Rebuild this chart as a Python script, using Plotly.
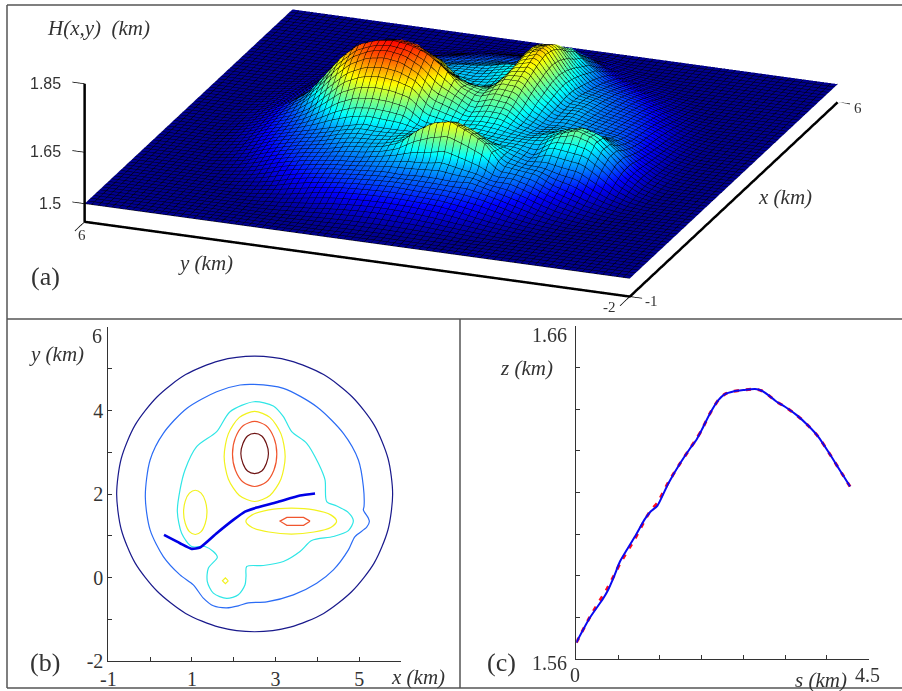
import plotly.graph_objects as go

W, H = 902, 691
# ---------- panel (a): surface, heights in metres above 1500 m, rows = y, columns = x
surf_x = [-1,-.75,-.5,-.25,0,.25,.5,.75,1,1.25,1.5,1.75,2,2.25,2.5,2.75,3,3.25,3.5,3.75,4,4.25,4.5,4.75,5,5.25,5.5,5.75,6]
surf_y = [-2,-1.75,-1.5,-1.25,-1,-.75,-.5,-.25,0,.25,.5,.75,1,1.25,1.5,1.75,2,2.25,2.5,2.75,3,3.25,3.5,3.75,4,4.25,4.5,4.75,5,5.25,5.5,5.75,6]
surf_m = [
 [0,0,0,0,0,0,0,0,0,0,0,0,0,0,0,0,0,0,0,0,0,0,0,0,0,0,0,0,0],
 [0,0,0,0,0,0,0,0,0,0,0,0,0,0,0,0,0,0,0,0,0,0,0,0,0,0,0,0,0],
 [0,0,0,0,0,0,0,0,0,0,0,0,0,0,0,0,0,0,0,0,0,0,0,0,0,0,0,0,0],
 [0,0,0,0,0,0,0,0,0,0,0,1,2,3,2,2,1,0,0,0,0,0,0,0,0,0,0,0,0],
 [0,0,0,0,0,0,0,0,1,5,10,14,15,14,11,10,9,7,5,2,0,0,0,0,0,0,0,0,0],
 [0,0,0,0,0,0,0,3,9,19,32,43,45,39,33,28,24,20,14,10,6,2,0,0,0,0,0,0,0],
 [0,0,0,0,0,0,4,11,22,42,72,90,88,70,57,49,45,41,34,24,15,9,4,0,0,0,0,0,0],
 [0,0,0,0,0,5,10,23,40,68,105,135,128,96,76,65,60,55,49,43,33,20,10,5,0,0,0,0,0],
 [0,0,0,0,4,10,22,40,55,75,112,152,142,98,80,74,71,66,62,55,47,37,22,10,4,0,0,0,0],
 [0,0,0,2,9,19,39,58,79,85,118,135,130,100,87,84,80,75,72,66,59,49,37,19,9,2,0,0,0],
 [0,0,0,6,15,33,52,74,85,86,88,105,110,100,92,95,96,92,87,78,70,59,47,33,15,6,0,0,0],
 [0,0,2,10,24,45,64,72,92,100,104,104,98,92,90,92,94,97,96,88,80,72,60,46,26,11,2,0,0],
 [0,0,5,14,34,52,76,88,150,128,106,105,105,105,110,125,135,145,147,140,127,110,95,69,47,22,9,0,0],
 [0,0,7,20,41,59,72,100,178,160,115,108,118,135,153,175,191,205,215,208,189,160,138,103,74,44,18,5,0],
 [0,1,9,24,44,60,75,112,200,178,125,115,120,138,161,177,185,191,196,195,183,157,128,99,70,40,18,5,0],
 [0,2,10,27,46,62,75,102,190,165,122,105,115,125,145,145,135,122,121,125,115,95,88,76,56,33,13,2,0],
 [0,2,10,28,47,65,72,100,160,140,115,105,128,155,165,155,128,105,108,112,112,89,73,62,47,28,10,2,0],
 [0,2,10,27,46,62,74,92,118,118,110,108,142,175,215,175,142,108,100,100,100,88,72,61,46,27,10,2,0],
 [0,1,9,24,44,59,70,84,100,105,108,140,190,222,250,222,190,140,104,100,95,81,70,59,44,24,9,1,0],
 [0,0,7,20,41,55,66,75,92,100,108,148,205,250,268,250,205,148,108,98,91,75,66,55,41,20,7,0,0],
 [0,0,5,14,34,49,62,72,87,98,112,150,210,258,275,258,210,150,112,96,84,72,62,49,34,14,5,0,0],
 [0,0,2,10,24,43,55,66,75,90,100,145,202,250,268,250,202,145,100,88,75,66,55,43,24,10,2,0,0],
 [0,0,0,6,15,33,47,59,67,75,87,125,180,225,250,225,180,125,85,75,67,59,47,33,15,6,0,0,0],
 [0,0,0,2,9,19,37,49,59,66,74,95,135,180,207,180,135,95,72,66,59,49,37,19,9,2,0,0,0],
 [0,0,0,0,4,10,22,37,47,55,62,72,90,125,147,125,95,72,62,55,47,37,22,10,4,0,0,0,0],
 [0,0,0,0,0,5,10,20,33,43,49,55,63,78,88,78,63,55,49,43,33,20,10,5,0,0,0,0,0],
 [0,0,0,0,0,0,4,9,15,24,34,41,46,50,54,50,46,41,34,24,15,9,4,0,0,0,0,0,0],
 [0,0,0,0,0,0,0,2,6,10,14,20,24,27,29,27,24,20,14,10,6,2,0,0,0,0,0,0,0],
 [0,0,0,0,0,0,0,0,0,2,5,7,9,10,11,10,9,7,5,2,0,0,0,0,0,0,0,0,0],
 [0,0,0,0,0,0,0,0,0,0,0,0,1,2,2,2,1,0,0,0,0,0,0,0,0,0,0,0,0],
 [0,0,0,0,0,0,0,0,0,0,0,0,0,0,0,0,0,0,0,0,0,0,0,0,0,0,0,0,0],
 [0,0,0,0,0,0,0,0,0,0,0,0,0,0,0,0,0,0,0,0,0,0,0,0,0,0,0,0,0],
 [0,0,0,0,0,0,0,0,0,0,0,0,0,0,0,0,0,0,0,0,0,0,0,0,0,0,0,0,0],
]
surf_z = [[1.5 + v / 1000 for v in row] for row in surf_m]

# ---------- panel (b): level curves in km
c1_x = [5.8,5.69,5.36,4.83,4.15,3.35,2.5,1.65,.85,.17,-.36,-.69,-.8,-.69,-.36,.17,.85,1.65,2.5,3.35,4.15,4.83,5.36,5.69,5.8]
c1_y = [2,2.85,3.65,4.33,4.86,5.19,5.3,5.19,4.86,4.33,3.65,2.85,2,1.15,.35,-.33,-.86,-1.19,-1.3,-1.19,-.86,-.33,.35,1.15,2]
c2_x = [2.485,3.187,3.984,4.622,4.981,5.10,5.116,5.10,5.22,5.244,5.18,4.90,4.742,4.383,3.984,3.426,2.788,2.349,2.11,1.831,1.512,1.273,1.033,.715,.316,0,-.115,0,.316,.874,1.592,2.15,2.485]
c2_y = [4.625,4.53,4.09,3.453,2.815,2.177,1.70,1.62,1.42,1.34,1.204,.981,.662,.183,-.136,-.415,-.582,-.606,-.678,-.726,-.678,-.494,-.175,.064,.502,1.14,1.938,2.815,3.453,4.05,4.45,4.61,4.625]
c3_x = [2.485,2.947,3.187,3.386,3.745,4.024,4.183,4.223,4.463,4.742,4.861,4.742,4.383,3.864,3.585,3.187,2.708,2.31,2.293,2.27,2.11,1.831,1.512,1.368,1.392,1.608,1.512,1.313,.994,.754,.651,.715,.834,1.113,1.592,1.911,2.485]
c3_y = [4.21,4.107,3.852,3.493,3.214,2.735,2.337,1.818,1.714,1.555,1.356,1.124,.981,.885,.622,.383,.287,.263,.024,-.175,-.415,-.502,-.375,-.096,.223,.486,.622,.742,.742,1.061,1.579,2.097,2.576,3.134,3.493,3.971,4.21]
c4a_x = [3.23,3.13,2.865,2.5,2.135,1.87,1.77,1.87,2.135,2.5,2.865,3.13,3.23]
c4a_y = [2.9,3.44,3.835,3.98,3.835,3.44,2.9,2.36,1.965,1.82,1.965,2.36,2.9]
c4b_x = [1.36,1.32,1.22,1.08,.94,.84,.80,.84,.94,1.08,1.22,1.32,1.36]
c4b_y = [1.56,1.83,2.02,2.09,2.02,1.83,1.56,1.30,1.10,1.03,1.10,1.30,1.56]
c4c_x = [4.46,4.32,3.92,3.38,2.84,2.44,2.29,2.44,2.84,3.38,3.92,4.32,4.46]
c4c_y = [1.35,1.50,1.62,1.66,1.62,1.50,1.35,1.2,1.09,1.04,1.09,1.2,1.35]
c4d_x = [1.87,1.80,1.73,1.80,1.87]
c4d_y = [-.08,-.01,-.08,-.15,-.08]
c5a_x = [3.03,2.96,2.77,2.5,2.23,2.04,1.97,2.04,2.23,2.5,2.77,2.96,3.03]
c5a_y = [2.96,3.35,3.64,3.74,3.64,3.35,2.96,2.57,2.28,2.18,2.28,2.57,2.96]
c5b_x = [3.825,3.67,3.27,3.107,3.27,3.67,3.825]
c5b_y = [1.35,1.44,1.44,1.35,1.25,1.25,1.35]
c6_x = [2.83,2.78,2.67,2.5,2.33,2.22,2.17,2.22,2.33,2.5,2.67,2.78,2.83]
c6_y = [2.97,3.21,3.39,3.45,3.39,3.21,2.97,2.73,2.55,2.49,2.55,2.73,2.97]
path_x = [.332,.715,.994,1.193,1.592,1.99,2.27,2.549,3.027,3.585,3.944]
path_y = [1.02,.821,.686,.718,1.06,1.38,1.579,1.675,1.802,1.962,2.01]

# ---------- panel (c): profile along the path
s_km = [0,.21,.416,.477,.58,.672,.903,1.057,1.144,1.247,1.416,1.596,1.75,1.852,1.929,2.057,2.186,2.288,2.417,2.571,2.75,2.853,2.955,3.084,3.212,3.392,3.571,3.725,3.879,4.007,4.11,4.213]
z_blue = [1.565,1.5725,1.5783,1.5803,1.5848,1.5893,1.5968,1.6021,1.6043,1.606,1.6127,1.6187,1.6232,1.6259,1.6287,1.6337,1.6377,1.6395,1.6403,1.6407,1.641,1.6405,1.6392,1.6372,1.6357,1.6332,1.63,1.6267,1.6222,1.6182,1.615,1.6118]
z_red = [1.565,1.5727,1.5793,1.5812,1.5851,1.5887,1.5962,1.6018,1.6046,1.6068,1.613,1.6187,1.6232,1.6262,1.6287,1.6337,1.6377,1.6395,1.6403,1.6407,1.641,1.6405,1.6392,1.6372,1.6357,1.6332,1.63,1.6267,1.6222,1.6182,1.615,1.6118]

fig = go.Figure()
jet = [[0,'#00008f'],[.125,'#0000ff'],[.375,'#00ffff'],[.625,'#ffff00'],[.875,'#ff0000'],[1,'#800000']]
fig.add_trace(go.Surface(x=surf_x, y=surf_y, z=surf_z, colorscale=jet, cmin=1.5, cmax=1.815, showscale=False,
    lighting=dict(ambient=1, diffuse=0, specular=0, roughness=1, fresnel=0), hoverinfo='skip',
    contours=dict(x=dict(show=True, start=-1, end=6, size=.1, color='black', width=2),
                  y=dict(show=True, start=-2, end=6, size=.1, color='black', width=2))))
z0 = 1.447
def line3(x, y, z, w=5):
    fig.add_trace(go.Scatter3d(x=x, y=y, z=z, mode='lines', line=dict(color='black', width=w), hoverinfo='skip', showlegend=False))
line3([-1,-1,6],[6,-2,-2],[z0,z0,z0])
line3([-1,-1],[6,6],[z0,1.85])
for zt in (1.5,1.65,1.85):
    line3([-1,-1],[6,6.18],[zt,zt],1.5)
line3([-1,-1.33],[6,6],[z0,z0],1.5)
line3([-1,-1.33],[-2,-2],[z0,z0],1.5)
line3([-1,-1],[-2,-2.18],[z0,z0],1.5)
line3([6,6],[-2,-2.18],[z0,z0],1.5)

cols = ['#1a1a8c','#2b6cf5','#2fe6e6','#f2f21e','#f0562e','#6e1414']
curves = [(c1_x,c1_y,0),(c2_x,c2_y,1),(c3_x,c3_y,2),(c4a_x,c4a_y,3),(c4b_x,c4b_y,3),(c4c_x,c4c_y,3),(c4d_x,c4d_y,3),(c5a_x,c5a_y,4),(c5b_x,c5b_y,4),(c6_x,c6_y,5)]
for cx, cy, k in curves:
    fig.add_trace(go.Scatter(x=cx, y=cy, mode='lines', line=dict(color=cols[k], width=1.2, shape='spline' if len(cx) > 7 else 'linear', smoothing=.8), xaxis='x', yaxis='y', hoverinfo='skip', showlegend=False))
fig.add_trace(go.Scatter(x=path_x, y=path_y, mode='lines', line=dict(color='#0000e6', width=2.6, shape='spline', smoothing=.5), xaxis='x', yaxis='y', hoverinfo='skip', showlegend=False))
fig.add_trace(go.Scatter(x=s_km, y=z_red, mode='lines', line=dict(color='#ff0a1e', width=3, dash='5px,7px', shape='spline', smoothing=.6), xaxis='x2', yaxis='y2', hoverinfo='skip', showlegend=False))
fig.add_trace(go.Scatter(x=s_km, y=z_blue, mode='lines', line=dict(color='#0a0af0', width=2, shape='spline', smoothing=.6), xaxis='x2', yaxis='y2', hoverinfo='skip', showlegend=False))

def px(v): return v / W
def py(v): return 1 - v / H
SERIF = 'Liberation Serif'
anns = []
def txt(t, x, y, size=21, italic=False, font=SERIF, color='#333333', anchor='center'):
    s = f'<i>{t}</i>' if italic else t
    anns.append(dict(text=s, x=px(x), y=py(y), xref='paper', yref='paper', showarrow=False, xanchor=anchor, yanchor='middle',
                     font=dict(family=font, size=size, color=color)))
txt('H(x,y)  (km)', 98, 28, 21, True); txt('(a)', 45, 276, 26); txt('y (km)', 205, 263, 21, True); txt('x (km)', 785, 197, 21, True)
for t, y in (('1.85',83),('1.65',152),('1.5',203)):
    txt(t, 63, y, 16, font='Liberation Sans', anchor='right')
txt('6', 82, 235, 15); txt('-2', 609, 307, 15); txt('-1', 651, 301, 15); txt('6', 858, 108, 15)
txt('y (km)', 56, 354, 21, True); txt('(b)', 45, 662, 26); txt('x (km)', 418, 677, 21, True); txt('6', 97, 336, 20)
txt('z (km)', 526, 368, 21, True); txt('(c)', 501, 662, 26); txt('1.66', 549, 335, 20); txt('1.56', 549, 663, 20)
txt('0', 575, 675, 20); txt('4.5', 867, 675, 20); txt('s (km)', 821, 680, 21, True)

def seg(a, b, c, d):
    return dict(type='line', xref='paper', yref='paper', x0=px(a), y0=py(b), x1=px(c), y1=py(d), line=dict(color='#555555', width=1.5))
shapes = [seg(7,5,902,5), seg(7,5,7,688), seg(7,319,902,319), seg(7,688,902,688), seg(460,319,460,688)]

ax = dict(showgrid=False, zeroline=False, showline=True, linecolor='#333333', linewidth=1, ticks='inside', ticklen=4, tickcolor='#333333', automargin=False)
dist = 8
cx0, cy0, cz0 = -.003, .009, -.44
fig.update_layout(
    width=W, height=H, autosize=False, margin=dict(l=0, r=0, t=0, b=0), paper_bgcolor='white', plot_bgcolor='white', showlegend=False,
    annotations=anns, shapes=shapes,
    scene=dict(domain=dict(x=[0.008,1], y=[py(319), py(6)]), aspectmode='manual', aspectratio=dict(x=3.9, y=3.917, z=.973), bgcolor='rgba(0,0,0,0)',
        xaxis=dict(visible=False, range=[-1.35,6]), yaxis=dict(visible=False, range=[-2.2,6.2]), zaxis=dict(visible=False, range=[1.44,1.855]),
        camera=dict(eye=dict(x=cx0-.872*dist, y=cy0-.334*dist, z=cz0+.358*dist), up=dict(x=0,y=0,z=1), center=dict(x=cx0,y=cy0,z=cz0), projection=dict(type='orthographic'))),
    xaxis=dict(ax, domain=[px(108.3), px(401)], range=[-1,6], anchor='y', tickvals=[-1,0,1,2,3,4,5,6], ticktext=['-1','','1','','3','','5',''],
               tickfont=dict(family=SERIF, size=20, color='#333333')),
    yaxis=dict(ax, domain=[py(661), py(327)], range=[-2,6], anchor='x', tickvals=[-2,-1,0,1,2,3,4,5,6], ticktext=['-2','','0','','2','','4','',''],
               tickfont=dict(family=SERIF, size=20, color='#333333')),
    xaxis2=dict(ax, domain=[px(576.3), px(868.7)], range=[0,4.5], anchor='y2', tickvals=[4.5*i/7 for i in range(8)], showticklabels=False),
    yaxis2=dict(ax, domain=[py(659.3), py(325.7)], range=[1.56,1.66], anchor='x2', tickvals=[1.56+.0125*i for i in range(9)], showticklabels=False),
)
fig.write_html('out.html', post_script="document.body.style.margin='0';", config={'displayModeBar': False})
